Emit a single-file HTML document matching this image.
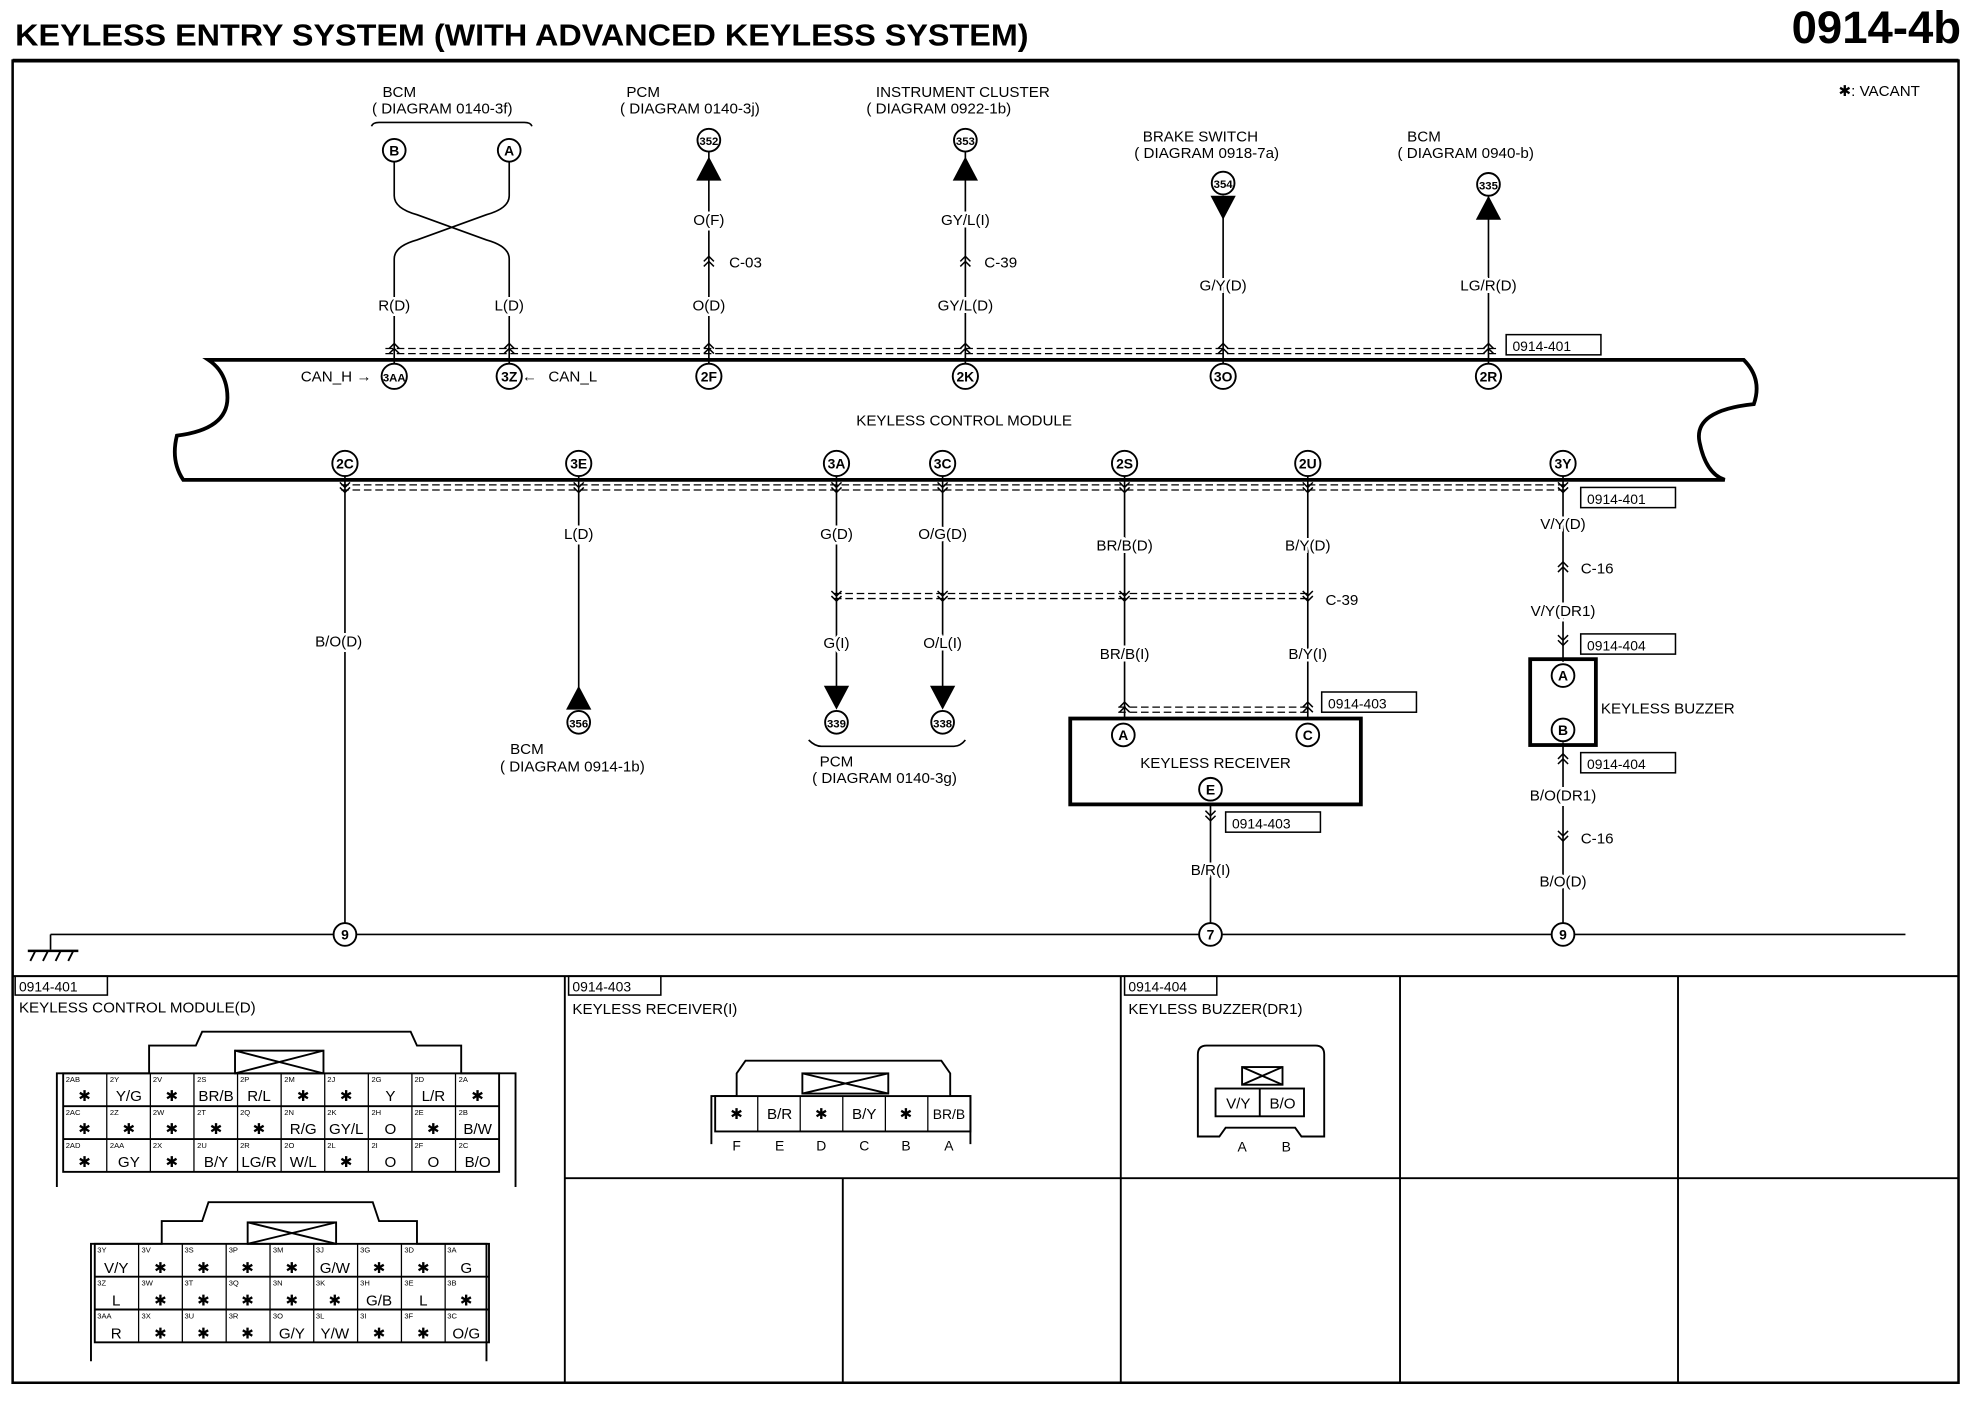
<!DOCTYPE html>
<html><head><meta charset="utf-8"><style>
html,body{margin:0;padding:0;background:#fff;}
svg{display:block;}
text{font-family:"Liberation Sans",sans-serif;fill:#000;}
.wl text{paint-order:stroke;stroke:#fff;stroke-width:4px;}
</style></head><body>
<svg width="1980" height="1408" viewBox="0 0 1567 1115" preserveAspectRatio="none" xmlns="http://www.w3.org/2000/svg">
<defs>
<g id="chu"><path d="M-4 4 L0 0 L4 4 M-4 8 L0 4 L4 8" fill="none" stroke="#000" stroke-width="1.2"/></g>
<g id="chd"><path d="M-4 0 L0 4 L4 0 M-4 4 L0 8 L4 4" fill="none" stroke="#000" stroke-width="1.2"/></g>
</defs>
<g font-weight="bold">
<text x="12" y="36" font-size="24" textLength="802" lengthAdjust="spacingAndGlyphs">KEYLESS ENTRY SYSTEM (WITH ADVANCED KEYLESS SYSTEM)</text>
<text x="1552" y="34" font-size="36" text-anchor="end">0914-4b</text>
</g>
<g fill="none" stroke="#000">
<rect x="10" y="48" width="1540" height="1047" stroke-width="2"/>
<line x1="10" y1="48" x2="1550" y2="48" stroke-width="3"/>
<line x1="10" y1="773" x2="1550" y2="773" stroke-width="1.5"/>
<line x1="447" y1="773" x2="447" y2="1095" stroke-width="1.5"/>
<line x1="887" y1="773" x2="887" y2="1095" stroke-width="1.5"/>
<line x1="1108" y1="773" x2="1108" y2="1095" stroke-width="1.5"/>
<line x1="1328" y1="773" x2="1328" y2="1095" stroke-width="1.5"/>
<line x1="667" y1="933" x2="667" y2="1095" stroke-width="1.5"/>
<line x1="447" y1="933" x2="1550" y2="933" stroke-width="1.5"/>
<path d="M165 285 L1380 285 Q1395 300 1388 320 Q1340 325 1345 350 Q1350 375 1365 380 L145 380 Q135 365 140 345 Q180 340 180 315 Q180 295 165 285 Z" stroke-width="3"/>
<line x1="40" y1="740" x2="1508" y2="740" stroke-width="1.3"/>
<line x1="40" y1="740" x2="40" y2="752" stroke-width="1.3"/>
<line x1="22" y1="753" x2="62" y2="753" stroke-width="2"/>
<path d="M28 753 L24 761 M38 753 L34 761 M48 753 L44 761 M58 753 L54 761" stroke-width="1.5"/>
<g stroke-dasharray="6 3" stroke-width="1">
<line x1="305" y1="276" x2="1185" y2="276"/><line x1="305" y1="280" x2="1185" y2="280"/>
<line x1="270" y1="384" x2="1240" y2="384"/><line x1="270" y1="388" x2="1240" y2="388"/>
<line x1="660" y1="470" x2="1035" y2="470"/><line x1="660" y1="474" x2="1035" y2="474"/>
<line x1="885" y1="560" x2="1035" y2="560"/><line x1="885" y1="564" x2="1035" y2="564"/>
</g>
<g stroke-width="1.3">
<path d="M294 100 Q295 97 300 97 L415 97 Q420 97 421 100"/>
<path d="M312 128 L312 155 Q312 165 330 170 L385 190 Q403 195 403 205 L403 290"/>
<path d="M403 128 L403 155 Q403 165 385 170 L330 190 Q312 195 312 205 L312 290"/>
<line x1="561" y1="120" x2="561" y2="290"/>
<line x1="764" y1="120" x2="764" y2="290"/>
<line x1="968" y1="155" x2="968" y2="290"/>
<line x1="1178" y1="155" x2="1178" y2="290"/>
<line x1="273" y1="376" x2="273" y2="731"/>
<line x1="458" y1="376" x2="458" y2="545"/>
<line x1="662" y1="376" x2="662" y2="545"/>
<line x1="746" y1="376" x2="746" y2="545"/>
<line x1="890" y1="376" x2="890" y2="570"/>
<line x1="1035" y1="376" x2="1035" y2="570"/>
<line x1="1237" y1="376" x2="1237" y2="524"/>
<line x1="1237" y1="588" x2="1237" y2="731"/>
<line x1="958" y1="636" x2="958" y2="731"/>
<path d="M640 586 Q645 591 650 591 L755 591 Q760 591 764 586"/>
</g>
<rect x="847" y="569" width="230" height="68" stroke-width="3"/>
<rect x="1211" y="522" width="52" height="68" stroke-width="3"/>
<g stroke-width="1.2">
<rect x="1192" y="265" width="75" height="16"/>
<rect x="1251" y="386" width="75" height="16"/>
<rect x="1251" y="502" width="75" height="16"/>
<rect x="1046" y="548" width="75" height="16"/>
<rect x="1251" y="596" width="75" height="16"/>
<rect x="970" y="643" width="75" height="16"/>
<rect x="12" y="773" width="73" height="15"/>
<rect x="450" y="773" width="73" height="15"/>
<rect x="890" y="773" width="73" height="15"/>
</g>
</g>
<g fill="#000">
<path d="M551 143 L561 124 L571 143 Z"/>
<path d="M754 143 L764 124 L774 143 Z"/>
<path d="M958 155 L978 155 L968 174 Z"/>
<path d="M1168 174 L1178 155 L1188 174 Z"/>
<path d="M448 562 L458 543 L468 562 Z"/>
<path d="M652 543 L672 543 L662 562 Z"/>
<path d="M736 543 L756 543 L746 562 Z"/>
</g>
<g>
<use href="#chu" x="312" y="272"/><use href="#chu" x="403" y="272"/><use href="#chu" x="561" y="272"/><use href="#chu" x="764" y="272"/><use href="#chu" x="968" y="272"/><use href="#chu" x="1178" y="272"/>
<use href="#chd" x="273" y="382"/><use href="#chd" x="458" y="382"/><use href="#chd" x="662" y="382"/><use href="#chd" x="746" y="382"/><use href="#chd" x="890" y="382"/><use href="#chd" x="1035" y="382"/><use href="#chd" x="1237" y="382"/>
<use href="#chu" x="561" y="203"/><use href="#chu" x="764" y="203"/>
<use href="#chd" x="662" y="468"/><use href="#chd" x="746" y="468"/><use href="#chd" x="890" y="468"/><use href="#chd" x="1035" y="468"/>
<use href="#chu" x="890" y="556"/><use href="#chu" x="1035" y="556"/>
<use href="#chu" x="1237" y="445"/><use href="#chd" x="1237" y="503"/><use href="#chu" x="1237" y="597"/><use href="#chd" x="1237" y="658"/>
<use href="#chd" x="958" y="642"/>
</g>
<g fill="#fff" stroke="#000" stroke-width="1.5">
<circle cx="312" cy="119" r="9"/><circle cx="403" cy="119" r="9"/>
<circle cx="561" cy="111" r="9"/><circle cx="764" cy="111" r="9"/><circle cx="968" cy="145" r="9"/><circle cx="1178" cy="146" r="9"/>
<circle cx="312" cy="298" r="10"/><circle cx="403" cy="298" r="10"/><circle cx="561" cy="298" r="10"/><circle cx="764" cy="298" r="10"/><circle cx="968" cy="298" r="10"/><circle cx="1178" cy="298" r="10"/>
<circle cx="273" cy="367" r="10"/><circle cx="458" cy="367" r="10"/><circle cx="662" cy="367" r="10"/><circle cx="746" cy="367" r="10"/><circle cx="890" cy="367" r="10"/><circle cx="1035" cy="367" r="10"/><circle cx="1237" cy="367" r="10"/>
<circle cx="458" cy="572" r="9"/><circle cx="662" cy="572" r="9"/><circle cx="746" cy="572" r="9"/>
<circle cx="889" cy="582" r="9"/><circle cx="1035" cy="582" r="9"/><circle cx="958" cy="625" r="9"/>
<circle cx="1237" cy="535" r="9"/><circle cx="1237" cy="578" r="9"/>
<circle cx="273" cy="740" r="9"/><circle cx="958" cy="740" r="9"/><circle cx="1237" cy="740" r="9"/>
</g>
<g font-size="11" text-anchor="middle" font-weight="bold">
<text x="312" y="123">B</text><text x="403" y="123">A</text>
<text x="561" y="115" font-size="9">352</text><text x="764" y="115" font-size="9">353</text><text x="968" y="149" font-size="9">354</text><text x="1178" y="150" font-size="9">335</text>
<text x="312" y="302" font-size="9">3AA</text><text x="403" y="302">3Z</text><text x="561" y="302">2F</text><text x="764" y="302">2K</text><text x="968" y="302">3O</text><text x="1178" y="302">2R</text>
<text x="273" y="371">2C</text><text x="458" y="371">3E</text><text x="662" y="371">3A</text><text x="746" y="371">3C</text><text x="890" y="371">2S</text><text x="1035" y="371">2U</text><text x="1237" y="371">3Y</text>
<text x="458" y="576" font-size="9">356</text><text x="662" y="576" font-size="9">339</text><text x="746" y="576" font-size="9">338</text>
<text x="889" y="586">A</text><text x="1035" y="586">C</text><text x="958" y="629">E</text><text x="1237" y="539">A</text><text x="1237" y="582">B</text>
<text x="273" y="744">9</text><text x="958" y="744">7</text><text x="1237" y="744">9</text>
</g>
<g font-size="12" text-anchor="middle">
<text x="316" y="77">BCM</text><text x="350" y="90">( DIAGRAM 0140-3f)</text>
<text x="509" y="77">PCM</text><text x="546" y="90">( DIAGRAM 0140-3j)</text>
<text x="762" y="77">INSTRUMENT CLUSTER</text><text x="743" y="90">( DIAGRAM 0922-1b)</text>
<text x="950" y="112">BRAKE SWITCH</text><text x="955" y="125">( DIAGRAM 0918-7a)</text>
<text x="1127" y="112">BCM</text><text x="1160" y="125">( DIAGRAM 0940-b)</text>
<text x="763" y="337">KEYLESS CONTROL MODULE</text>
<text x="417" y="597">BCM</text><text x="453" y="611">( DIAGRAM 0914-1b)</text>
<text x="662" y="607">PCM</text><text x="700" y="620">( DIAGRAM 0140-3g)</text>
<text x="962" y="608">KEYLESS RECEIVER</text>
</g>
<g font-size="12" text-anchor="middle" class="wl">
<text x="312" y="246">R(D)</text><text x="403" y="246">L(D)</text>
<text x="561" y="178">O(F)</text><text x="561" y="246">O(D)</text>
<text x="764" y="178">GY/L(I)</text><text x="764" y="246">GY/L(D)</text>
<text x="968" y="230">G/Y(D)</text><text x="1178" y="230">LG/R(D)</text>
<text x="268" y="512">B/O(D)</text><text x="458" y="427">L(D)</text>
<text x="662" y="427">G(D)</text><text x="746" y="427">O/G(D)</text>
<text x="662" y="513">G(I)</text><text x="746" y="513">O/L(I)</text>
<text x="890" y="436">BR/B(D)</text><text x="1035" y="436">B/Y(D)</text>
<text x="890" y="522">BR/B(I)</text><text x="1035" y="522">B/Y(I)</text>
<text x="1237" y="419">V/Y(D)</text><text x="1237" y="488">V/Y(DR1)</text>
<text x="1237" y="634">B/O(DR1)</text><text x="1237" y="702">B/O(D)</text>
<text x="958" y="693">B/R(I)</text>
</g>
<g font-size="12">
<text x="577" y="212">C-03</text><text x="779" y="212">C-39</text><text x="1049" y="479">C-39</text>
<text x="1251" y="454">C-16</text><text x="1251" y="668">C-16</text>
<text x="1267" y="565">KEYLESS BUZZER</text>
<text x="1455" y="76">✱: VACANT</text>
<text x="238" y="302">CAN_H</text><text x="282" y="302">→</text>
<text x="413" y="302">←</text><text x="434" y="302">CAN_L</text>
<text x="1197" y="278" font-size="11">0914-401</text>
<text x="1256" y="399" font-size="11">0914-401</text>
<text x="1256" y="515" font-size="11">0914-404</text>
<text x="1051" y="561" font-size="11">0914-403</text>
<text x="1256" y="609" font-size="11">0914-404</text>
<text x="975" y="656" font-size="11">0914-403</text>
<text x="15" y="785" font-size="11">0914-401</text>
<text x="453" y="785" font-size="11">0914-403</text>
<text x="893" y="785" font-size="11">0914-404</text>
<text x="15" y="802">KEYLESS CONTROL MODULE(D)</text>
<text x="453" y="803">KEYLESS RECEIVER(I)</text>
<text x="893" y="803">KEYLESS BUZZER(DR1)</text>
</g>
<g fill="none" stroke="#000" stroke-width="1.5">
<path d="M45 940 L45 850 L118 850 L118 828 L155 828 L160 817 L325 817 L330 828 L365 828 L365 850 L408 850 L408 940"/>
<rect x="50" y="850" width="345" height="78"/>
<line x1="50" y1="876" x2="395" y2="876"/><line x1="50" y1="902" x2="395" y2="902"/>
<rect x="186" y="832" width="70" height="18"/><path d="M186 832 L256 850 M256 832 L186 850"/>
<path d="M72 1078 L72 985 L128 985 L128 967 L160 967 L165 952 L295 952 L300 967 L330 967 L330 985 L385 985 L385 1078"/>
<rect x="75" y="985" width="312" height="78"/>
<line x1="75" y1="1011" x2="387" y2="1011"/><line x1="75" y1="1037" x2="387" y2="1037"/>
<rect x="196" y="968" width="70" height="17"/><path d="M196 968 L266 985 M266 968 L196 985"/>
<path d="M563 906 L563 868 L583 868 L583 850 L590 840 L745 840 L752 850 L752 868 L768 868 L768 906"/>
<rect x="566" y="868" width="202" height="28"/>
<rect x="635" y="850" width="68" height="16"/><path d="M635 850 L703 866 M703 850 L635 866"/>
<path d="M948 900 L948 835 Q948 828 955 828 L1041 828 Q1048 828 1048 835 L1048 900 L1030 900 L1025 893 L970 893 L965 900 Z"/>
<rect x="962" y="862" width="70" height="22"/><line x1="997" y1="862" x2="997" y2="884"/>
<rect x="983" y="845" width="32" height="14"/><path d="M983 845 L1015 859 M1015 845 L983 859"/>
</g>
<g stroke="#000" stroke-width="1">
<path d="M84.5 850V928M119 850V928M153.5 850V928M188 850V928M222.5 850V928M257 850V928M291.5 850V928M326 850V928M360.5 850V928"/>
<path d="M109.7 985V1063M144.3 985V1063M179 985V1063M213.7 985V1063M248.3 985V1063M283 985V1063M317.7 985V1063M352.3 985V1063"/>
<path d="M599.7 868V896M633.3 868V896M667 868V896M700.7 868V896M734.3 868V896"/>
</g>
<g font-size="6">
<text x="52" y="857">2AB</text><text x="87" y="857">2Y</text><text x="121" y="857">2V</text><text x="156" y="857">2S</text><text x="190" y="857">2P</text><text x="225" y="857">2M</text><text x="259" y="857">2J</text><text x="294" y="857">2G</text><text x="328" y="857">2D</text><text x="363" y="857">2A</text>
<text x="52" y="883">2AC</text><text x="87" y="883">2Z</text><text x="121" y="883">2W</text><text x="156" y="883">2T</text><text x="190" y="883">2Q</text><text x="225" y="883">2N</text><text x="259" y="883">2K</text><text x="294" y="883">2H</text><text x="328" y="883">2E</text><text x="363" y="883">2B</text>
<text x="52" y="909">2AD</text><text x="87" y="909">2AA</text><text x="121" y="909">2X</text><text x="156" y="909">2U</text><text x="190" y="909">2R</text><text x="225" y="909">2O</text><text x="259" y="909">2L</text><text x="294" y="909">2I</text><text x="328" y="909">2F</text><text x="363" y="909">2C</text>
<text x="77" y="992">3Y</text><text x="112" y="992">3V</text><text x="146" y="992">3S</text><text x="181" y="992">3P</text><text x="216" y="992">3M</text><text x="250" y="992">3J</text><text x="285" y="992">3G</text><text x="320" y="992">3D</text><text x="354" y="992">3A</text>
<text x="77" y="1018">3Z</text><text x="112" y="1018">3W</text><text x="146" y="1018">3T</text><text x="181" y="1018">3Q</text><text x="216" y="1018">3N</text><text x="250" y="1018">3K</text><text x="285" y="1018">3H</text><text x="320" y="1018">3E</text><text x="354" y="1018">3B</text>
<text x="77" y="1044">3AA</text><text x="112" y="1044">3X</text><text x="146" y="1044">3U</text><text x="181" y="1044">3R</text><text x="216" y="1044">3O</text><text x="250" y="1044">3L</text><text x="285" y="1044">3I</text><text x="320" y="1044">3F</text><text x="354" y="1044">3C</text>
</g>
<g font-size="12" text-anchor="middle">
<text x="67" y="872">✱</text><text x="102" y="872">Y/G</text><text x="136" y="872">✱</text><text x="171" y="872">BR/B</text><text x="205" y="872">R/L</text><text x="240" y="872">✱</text><text x="274" y="872">✱</text><text x="309" y="872">Y</text><text x="343" y="872">L/R</text><text x="378" y="872">✱</text>
<text x="67" y="898">✱</text><text x="102" y="898">✱</text><text x="136" y="898">✱</text><text x="171" y="898">✱</text><text x="205" y="898">✱</text><text x="240" y="898">R/G</text><text x="274" y="898">GY/L</text><text x="309" y="898">O</text><text x="343" y="898">✱</text><text x="378" y="898">B/W</text>
<text x="67" y="924">✱</text><text x="102" y="924">GY</text><text x="136" y="924">✱</text><text x="171" y="924">B/Y</text><text x="205" y="924">LG/R</text><text x="240" y="924">W/L</text><text x="274" y="924">✱</text><text x="309" y="924">O</text><text x="343" y="924">O</text><text x="378" y="924">B/O</text>
<text x="92" y="1008">V/Y</text><text x="127" y="1008">✱</text><text x="161" y="1008">✱</text><text x="196" y="1008">✱</text><text x="231" y="1008">✱</text><text x="265" y="1008">G/W</text><text x="300" y="1008">✱</text><text x="335" y="1008">✱</text><text x="369" y="1008">G</text>
<text x="92" y="1034">L</text><text x="127" y="1034">✱</text><text x="161" y="1034">✱</text><text x="196" y="1034">✱</text><text x="231" y="1034">✱</text><text x="265" y="1034">✱</text><text x="300" y="1034">G/B</text><text x="335" y="1034">L</text><text x="369" y="1034">✱</text>
<text x="92" y="1060">R</text><text x="127" y="1060">✱</text><text x="161" y="1060">✱</text><text x="196" y="1060">✱</text><text x="231" y="1060">G/Y</text><text x="265" y="1060">Y/W</text><text x="300" y="1060">✱</text><text x="335" y="1060">✱</text><text x="369" y="1060">O/G</text>
<text x="583" y="886">✱</text><text x="617" y="886">B/R</text><text x="650" y="886">✱</text><text x="684" y="886">B/Y</text><text x="717" y="886">✱</text><text x="751" y="886" font-size="11">BR/B</text>
<text x="583" y="911" font-size="11">F</text><text x="617" y="911" font-size="11">E</text><text x="650" y="911" font-size="11">D</text><text x="684" y="911" font-size="11">C</text><text x="717" y="911" font-size="11">B</text><text x="751" y="911" font-size="11">A</text>
<text x="980" y="878">V/Y</text><text x="1015" y="878">B/O</text>
<text x="983" y="912" font-size="11">A</text><text x="1018" y="912" font-size="11">B</text>
</g>
</svg>
</body></html>
